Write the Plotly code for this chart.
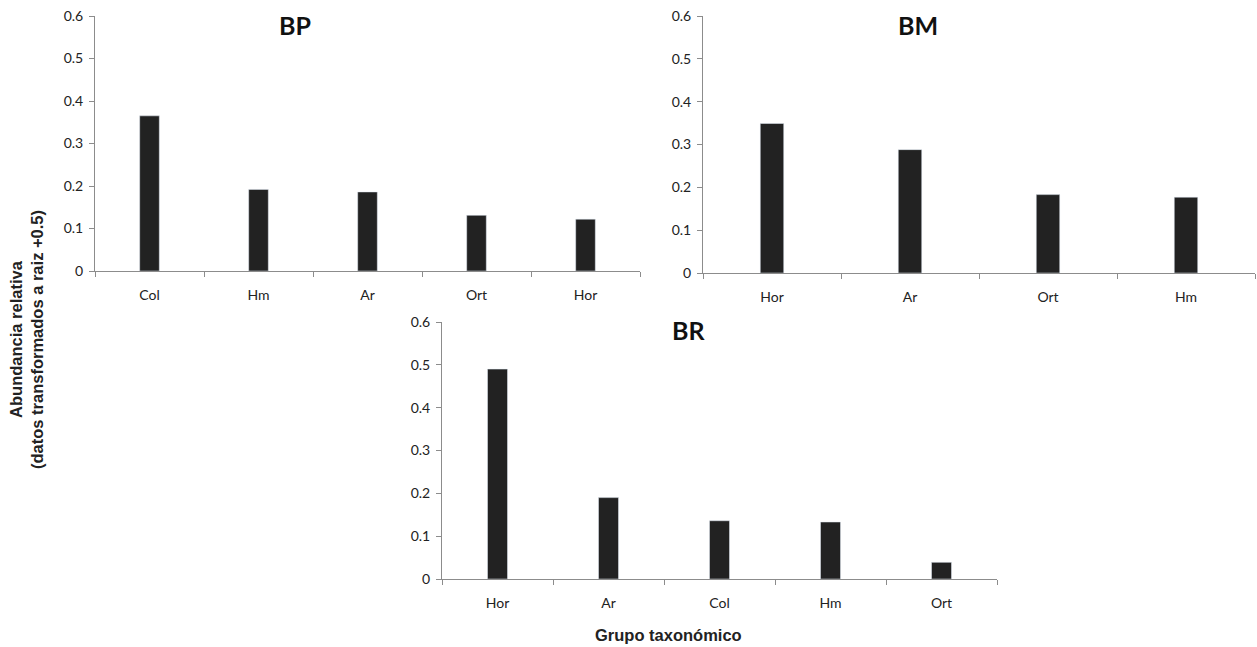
import plotly.graph_objects as go

bp_cats = ["Col", "Hm", "Ar", "Ort", "Hor"]
bp_vals = [0.365, 0.192, 0.186, 0.131, 0.122]

bm_cats = ["Hor", "Ar", "Ort", "Hm"]
bm_vals = [0.349, 0.288, 0.183, 0.177]

br_cats = ["Hor", "Ar", "Col", "Hm", "Ort"]
br_vals = [0.490, 0.190, 0.136, 0.133, 0.039]

y_ticks = [0, 0.1, 0.2, 0.3, 0.4, 0.5, 0.6]
y_tick_text = ["0", "0.1", "0.2", "0.3", "0.4", "0.5", "0.6"]

W, H = 1257, 647
BAR = "#222222"
AX = "#8c8c8c"
TICKFONT = dict(family="Lato, Open Sans, sans-serif", size=14, color="#222")
TITLEFONT = dict(family="Lato, Open Sans, sans-serif", size=25, color="#111")
LABFONT = dict(family="Liberation Sans, Arial, sans-serif", size=16.5, color="#222")

fig = go.Figure()
fig.add_trace(go.Bar(x=bp_cats, y=bp_vals, marker_color=BAR, width=0.18,
                     xaxis="x", yaxis="y", showlegend=False))
fig.add_trace(go.Bar(x=bm_cats, y=bm_vals, marker_color=BAR, width=0.17,
                     xaxis="x2", yaxis="y2", showlegend=False))
fig.add_trace(go.Bar(x=br_cats, y=br_vals, marker_color=BAR, width=0.18,
                     xaxis="x3", yaxis="y3", showlegend=False))


def px(v):
    return v / W


def py(v):
    return 1 - v / H


def xax(dom, anchor):
    return dict(domain=dom, anchor=anchor, showline=True, linecolor=AX, linewidth=1,
                ticks="outside", tickson="boundaries", ticklen=5, tickcolor=AX,
                ticklabelstandoff=11, automargin=False,
                showgrid=False, zeroline=False, tickfont=TICKFONT, fixedrange=True)


def yax(dom, anchor):
    return dict(domain=dom, anchor=anchor, range=[0, 0.6], tickvals=y_ticks,
                ticktext=y_tick_text, showline=True, linecolor=AX, linewidth=1,
                ticks="outside", ticklen=5, tickcolor=AX, showgrid=False,
                ticklabelstandoff=3, automargin=False,
                zeroline=False, tickfont=TICKFONT, fixedrange=True)


def note(text, x, y, font, angle=0):
    return dict(text=text, x=px(x), y=py(y), xref="paper", yref="paper",
                xanchor="center", yanchor="middle", textangle=angle,
                showarrow=False, font=font)


fig.update_layout(
    width=W, height=H,
    margin=dict(l=0, r=0, t=0, b=0, autoexpand=False),
    paper_bgcolor="white", plot_bgcolor="white",
    xaxis=xax([px(95), px(640)], "y"),
    yaxis=yax([py(271), py(16)], "x"),
    xaxis2=xax([px(703), px(1255)], "y2"),
    yaxis2=yax([py(273), py(16)], "x2"),
    xaxis3=xax([px(442), px(997)], "y3"),
    yaxis3=yax([py(579), py(322)], "x3"),
    annotations=[
        note("<b>BP</b>", 295, 25, TITLEFONT),
        note("<b>BM</b>", 918, 25, TITLEFONT),
        note("<b>BR</b>", 688, 330, TITLEFONT),
        note("<b>Abundancia relativa<br>(datos transformados a raiz +0.5)</b>",
             26, 340, LABFONT, angle=-90),
        note("<b>Grupo taxonómico</b>", 668, 635, LABFONT),
    ],
)

fig.write_html("out.html")
